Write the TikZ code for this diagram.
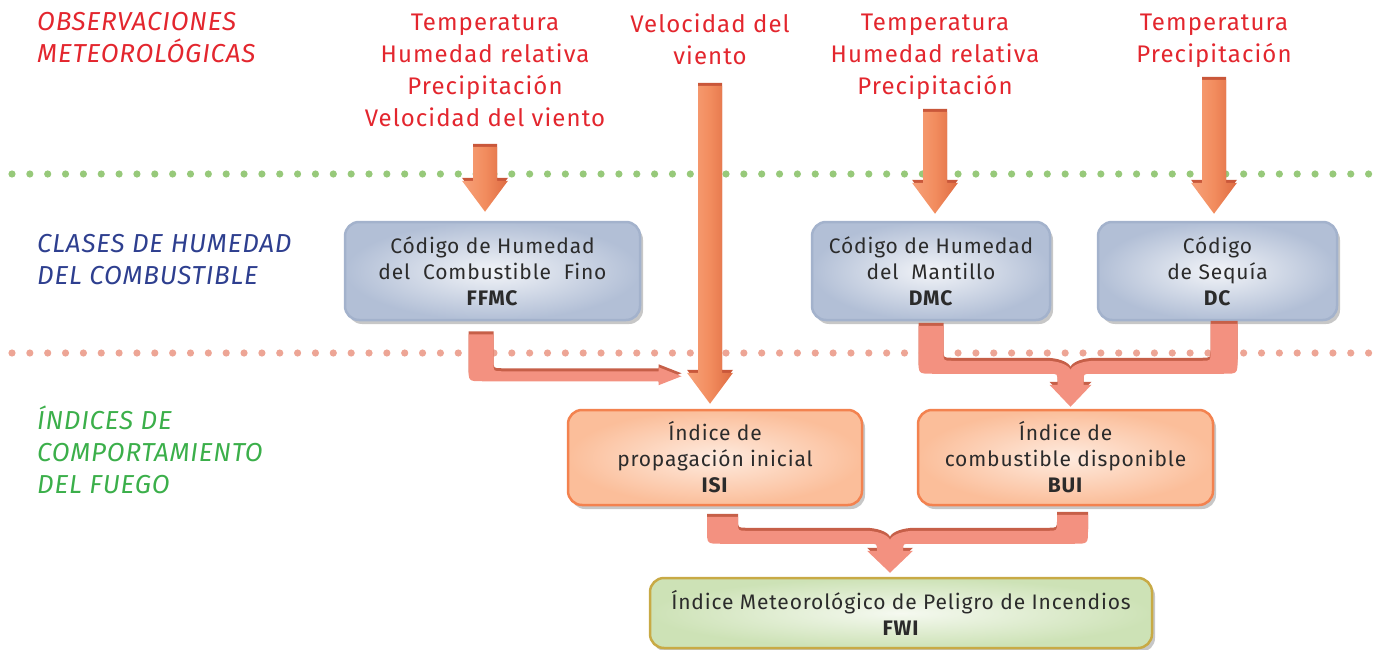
\documentclass[tikz,border=0pt]{standalone}
\usepackage{fontspec}
\setmainfont{Fira Sans}
\usetikzlibrary{calc,shadows}
\definecolor{obsred}{HTML}{E3262E}
\definecolor{clsblue}{HTML}{2E3F8F}
\definecolor{idxgreen}{HTML}{3BAF4A}
\definecolor{boxtext}{HTML}{2B2B2B}
\definecolor{arrowL}{HTML}{F7A27A}
\definecolor{arrowM}{HTML}{F28C5E}
\definecolor{arrowR}{HTML}{DE6B42}
\definecolor{arrowdark}{HTML}{C9573A}
\definecolor{pipecol}{HTML}{F39180}
\definecolor{pipedark}{HTML}{C65F48}
\definecolor{dotgreen}{HTML}{97C97A}
\definecolor{dotsalmon}{HTML}{EDA595}
\definecolor{blueborder}{HTML}{A3B2CC}
\definecolor{bluefillout}{HTML}{B2BFD6}
\definecolor{bluefillin}{HTML}{F2F4F8}
\definecolor{orgborder}{HTML}{F3824F}
\definecolor{orgfillout}{HTML}{FBBE9A}
\definecolor{orgfillin}{HTML}{FEEBDF}
\definecolor{grnborder}{HTML}{C8AA45}
\definecolor{grnfillout}{HTML}{CDE2B6}
\definecolor{grnfillin}{HTML}{F5F9F0}

% fat down arrow: #1 node giving x, #2 start y (px), #3 target node, #4 gap above target
\newcommand\fatdown[4]{%
  \fill[arrowdark] let \p1=(#1.center), \p2=(#3.north) in
    (\x1-12pt,-#2pt+3pt) -- (\x1+12pt,-#2pt+3pt) -- (\x1+12pt,\y2+#4pt+34pt)
    -- (\x1+23pt,\y2+#4pt+34pt) -- (\x1,\y2+#4pt+3pt) -- (\x1-23pt,\y2+#4pt+34pt)
    -- (\x1-12pt,\y2+#4pt+34pt) -- cycle;
  \shade[left color=arrowL, right color=arrowR, middle color=arrowM] let \p1=(#1.center), \p2=(#3.north) in
    (\x1-12pt,-#2pt) -- (\x1+12pt,-#2pt) -- (\x1+12pt,\y2+#4pt+31pt)
    -- (\x1+23pt,\y2+#4pt+31pt) -- (\x1,\y2+#4pt) -- (\x1-23pt,\y2+#4pt+31pt)
    -- (\x1-12pt,\y2+#4pt+31pt) -- cycle;
}
\newcommand\pipeffmc{(-24,13) -- (1,13) -- (1,42) .. controls (1,50) .. (9,50) -- (166,50) -- (166,46) -- (189,55) -- (166,64) -- (166,60) -- (-10,60) .. controls (-24,60) .. (-24,46) -- cycle}
\newcommand\pipebui{(-147,-83) -- (-122,-83) -- (-122,-56) .. controls (-122,-48) .. (-114,-48) -- (-20,-48) .. controls (-8,-48) and (3,-44) .. (5,-39) .. controls (7,-44) and (18,-48) .. (30,-48) -- (137,-48) .. controls (145,-48) .. (145,-56) -- (145,-85) -- (172,-85) -- (172,-49) .. controls (172,-35) .. (158,-35) -- (26,-35) .. controls (18,-35) .. (18,-27) -- (18,-24) -- (26,-24) -- (5,-2) -- (-16,-24) -- (-8,-24) -- (-8,-27) .. controls (-8,-35) .. (-16,-35) -- (-133,-35) .. controls (-147,-35) .. (-147,-49) -- cycle}
\newcommand\pipefwi{(-194,-60) -- (-163,-60) -- (-163,-54) .. controls (-163,-46) .. (-155,-46) -- (-36,-46) .. controls (-24,-46) and (-13,-42) .. (-11,-37) .. controls (-9,-42) and (2,-46) .. (14,-46) -- (148,-46) .. controls (156,-46) .. (156,-54) -- (156,-62) -- (187,-62) -- (187,-47) .. controls (187,-33) .. (173,-33) -- (10,-33) .. controls (2,-33) .. (2,-27) -- (2,-26) -- (12,-26) -- (-11,-4) -- (-34,-26) -- (-24,-26) -- (-24,-27) .. controls (-24,-33) .. (-32,-33) -- (-180,-33) .. controls (-194,-33) .. (-194,-47) -- cycle}

\begin{document}
\begin{tikzpicture}[x=1pt,y=-1pt,
  toptext/.style={font=\addfontfeatures{LetterSpace=4.5}\fontsize{24}{32}\selectfont, text=obsred, align=center, inner sep=0pt, anchor=north},
  heading/.style={font=\itshape\addfontfeatures{LetterSpace=3}\fontsize{26}{32}\selectfont, align=left, inner sep=0pt, anchor=north west},
  basebox/.style={rounded corners=14pt, line width=2.5pt, font=\addfontfeatures{LetterSpace=4}\fontsize{21}{26}\selectfont,
    text=boxtext, align=center, inner sep=0pt,
    drop shadow={shadow xshift=3pt, shadow yshift=-4pt, opacity=0.22, fill=black}},
  codebox/.style={basebox, draw=blueborder, inner color=bluefillin, outer color=bluefillout, minimum height=98pt},
  idxbox/.style={basebox, draw=orgborder, inner color=orgfillin, outer color=orgfillout, minimum height=95pt},
  fwibox/.style={basebox, draw=grnborder, inner color=grnfillin, outer color=grnfillout, minimum height=70pt},
  pipe/.style={fill=pipecol},
  pipebevel/.style={fill=pipedark, yshift=3pt}
]
\useasboundingbox (0,0) rectangle (1376,650);

% separators
\foreach \i in {0,...,76} {
  \fill[dotgreen] (12+\i*17.85,174) circle[radius=3.6pt];
  \fill[dotsalmon] (12+\i*17.85,353) circle[radius=3.6pt];
}

% headings
\node[heading, text=obsred] (hobs) at (37,12) {OBSERVACIONES\\METEOROLÓGICAS};
\node[heading, text=clsblue] (hcls) at (37,234) {CLASES DE HUMEDAD\\DEL COMBUSTIBLE};
\node[heading, text=idxgreen] (hidx) at (37,406) {ÍNDICES DE\\COMPORTAMIENTO\\DEL FUEGO};

% observations
\node[toptext] (t1) at (485,14) {Temperatura\\Humedad relativa\\Precipitación\\Velocidad del viento};
\node[toptext] (t2) at (710,14) {Velocidad del\\viento};
\node[toptext] (t3) at (935,14) {Temperatura\\Humedad relativa\\Precipitación};
\node[toptext] (t4) at (1214,14) {Temperatura\\Precipitación};

% boxes
\node[codebox, minimum width=295pt] (ffmc) at (492.5,271) {Código de Humedad\\del\ \ Combustible\ \ Fino\\\textbf{FFMC}};
\node[codebox, minimum width=238pt] (dmc) at (931,271) {Código de Humedad\\del\ \ Mantillo\\\textbf{DMC}};
\node[codebox, minimum width=239pt] (dc) at (1217.5,271) {Código\\de Sequía\\\textbf{DC}};
\node[idxbox, minimum width=294pt] (isi) at (715,457.5) {Índice de\\propagación inicial\\\textbf{ISI}};
\node[idxbox, minimum width=295pt] (bui) at (1065.5,457.5) {Índice de\\combustible disponible\\\textbf{BUI}};
\node[fwibox, minimum width=502pt] (fwi) at (901,613) {Índice Meteorológico de Peligro de Incendios\\\textbf{FWI}};

% observation arrows
\fatdown{t1}{147}{ffmc}{9}
\fatdown{t2}{86}{isi}{5}
\fatdown{t3}{112}{dmc}{7}
\fatdown{t4}{80}{dc}{7}

% FFMC -> ISI
\begin{scope}[shift={(ffmc.south)}]
  \fill[pipebevel] \pipeffmc;
  \fill[pipe] \pipeffmc;
\end{scope}
% DMC + DC -> BUI
\begin{scope}[shift={(bui.north)}]
  \fill[pipebevel] \pipebui;
  \fill[pipe] \pipebui;
\end{scope}
% ISI + BUI -> FWI
\begin{scope}[shift={(fwi.north)}]
  \fill[pipebevel] \pipefwi;
  \fill[pipe] \pipefwi;
\end{scope}
\end{tikzpicture}
\end{document}
